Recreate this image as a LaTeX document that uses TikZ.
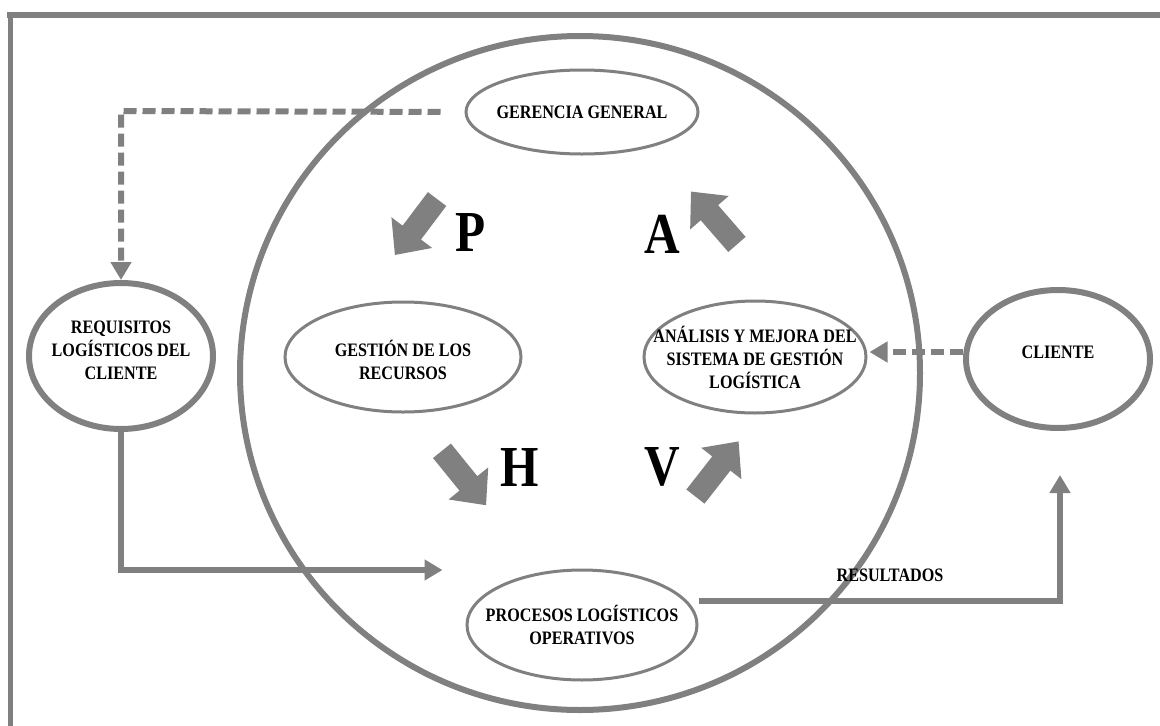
\documentclass[tikz,border=0pt]{standalone}
\usepackage{fontspec}
\newfontfamily\rotulo{Liberation Serif}[FakeStretch=0.85]
\usetikzlibrary{arrows.meta,shapes.geometric}
\definecolor{gris}{RGB}{128,128,128}
\tikzset{
  elipse/.style={ellipse, draw=gris, line width=3pt, inner sep=0pt},
  externa/.style={elipse, line width=6pt},
  texto/.style={align=center, inner sep=0pt, font=\rotulo\bfseries\fontsize{19}{23}\selectfont},
  letra/.style={inner sep=0pt, font=\rotulo\bfseries\fontsize{58}{58}\selectfont},
  flecha/.style={draw=gris, line width=6pt, -{Triangle[length=18pt,width=20pt]}},
  discont/.style={flecha, dash pattern=on 13pt off 6pt},
  bloque/.style={fill=gris},
}
% block arrow centred at #1, pointing along angle #2
\newcommand\bloque[2]{%
  \begin{scope}[shift={#1}, rotate=#2]
    \fill[bloque] (-35,-11.5) -- (7,-11.5) -- (7,-25.5) -- (35,0)
      -- (7,25.5) -- (7,11.5) -- (-35,11.5) -- cycle;
  \end{scope}}
\begin{document}
\begin{tikzpicture}[x=1pt,y=-1pt]
\useasboundingbox (0,0) rectangle (1160,726);
\fill[white] (0,0) rectangle (1160,726);

% frame
\draw[gris, line width=6pt] (7,15) -- (1160,15);
\draw[gris, line width=5pt] (10,12) -- (10,726);

% central cycle
\node[externa, minimum width=680pt, minimum height=674pt] (ciclo) at (580,373) {};

\node[elipse, minimum width=232pt, minimum height=84pt] (gerencia) at (582,112) {};
\node[texto] (t-gerencia) at (gerencia) {GERENCIA GENERAL};

\node[elipse, minimum width=236pt, minimum height=110pt] (gestion) at (403,357) {};
\node[texto] (t-gestion) at (403,360) {GESTIÓN DE LOS\\RECURSOS};

\node[elipse, minimum width=222pt, minimum height=112pt] (analisis) at (755,357) {};
\node[texto] (t-analisis) at (755,357) {ANÁLISIS Y MEJORA DEL\\SISTEMA DE GESTIÓN\\LOGÍSTICA};

\node[elipse, minimum width=230pt, minimum height=110pt] (procesos) at (582,625) {};
\node[texto] (t-procesos) at (582,625) {PROCESOS LOGÍSTICOS\\OPERATIVOS};

% outer parties
\node[externa, minimum width=184pt, minimum height=146pt] (requisitos) at (121,356) {};
\node[texto] (t-requisitos) at (121,350) {REQUISITOS\\LOGÍSTICOS DEL\\CLIENTE};

\node[externa, minimum width=184pt, minimum height=138pt] (cliente) at (1058,359) {};
\node[texto] (t-cliente) at (1058,352) {CLIENTE};

% PHVA letters and block arrows
\node[letra] (p) at (471,233) {P};
\node[letra] (a) at (662,234) {A};
\node[letra] (h) at (520,468) {H};
\node[letra] (v) at (662,467) {V};
\bloque{(416,227)}{233}
\bloque{(714,218)}{131}
\bloque{(464,478)}{-51}
\bloque{(717,469)}{52}

% connectors
\coordinate (esq1) at (121,111);
\draw[discont, shorten <=24pt] (gerencia.west) -- (esq1) -- (requisitos.north);
\draw[flecha, shorten >=23pt] (requisitos.south) |- (procesos.west |- 0,570);
\coordinate (esq2) at (1060,601);
\draw[flecha, shorten >=44pt] (procesos.east |- 0,601) -- (esq2) -- (cliente.south -| esq2);
\draw[discont, shorten >=2pt] (cliente.west |- 0,352) -- (analisis.east |- 0,352);
\node[texto] (resultados) at (890,575) {RESULTADOS};
\end{tikzpicture}
\end{document}
